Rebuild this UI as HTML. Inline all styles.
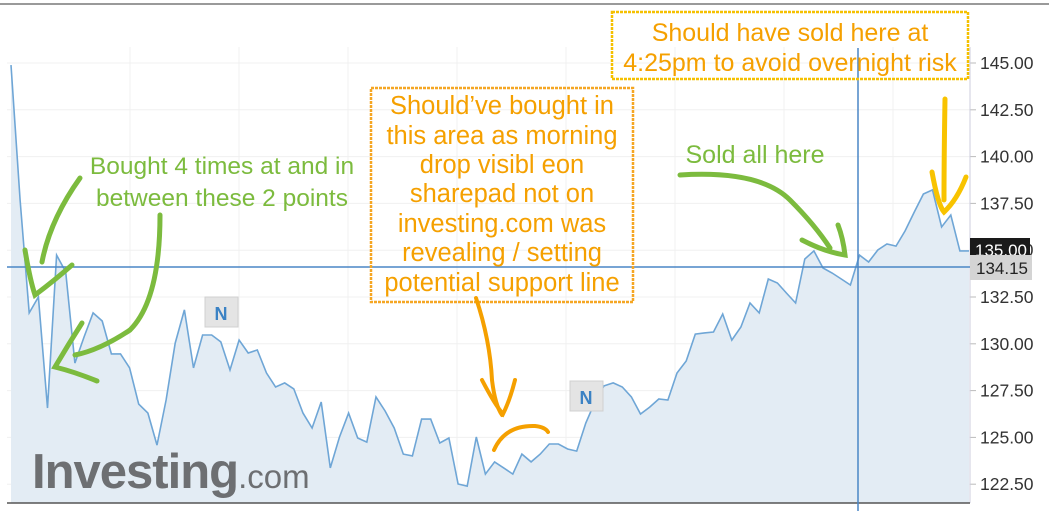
<!DOCTYPE html>
<html><head><meta charset="utf-8"><style>
body{margin:0;background:#fff;width:1049px;height:511px;overflow:hidden;font-family:"Liberation Sans",sans-serif}
svg{display:block}
</style></head><body>
<svg id="chart" width="1049" height="511" xmlns="http://www.w3.org/2000/svg">
<line x1="0" y1="4" x2="1049" y2="4" stroke="#9a9a9a" stroke-width="2"/>
<g id="grid"></g>
<g id="series"></g>
<g id="axis"></g>
<text x="32" y="488" font-size="49" font-weight="bold" fill="#6d6f72" letter-spacing="-1">Investing<tspan font-size="33" font-weight="normal" letter-spacing="0">.com</tspan></text>
<g><rect x="205" y="297" width="33" height="30" fill="#e4e4e4" stroke="#d0d0d0"/><text x="221" y="320" text-anchor="middle" font-size="18" font-weight="bold" fill="#3b82c4">N</text></g>
<g><rect x="570" y="381" width="33" height="30" fill="#e4e4e4" stroke="#d0d0d0"/><text x="586" y="404" text-anchor="middle" font-size="18" font-weight="bold" fill="#3b82c4">N</text></g>
<line x1="7" y1="267" x2="970" y2="267" stroke="#4a86c5" stroke-width="1.5"/>
<line x1="858" y1="48" x2="858" y2="511" stroke="#4a86c5" stroke-width="1.5"/>
<rect x="970" y="238" width="60" height="18" fill="#1a1a1a"/>
<text x="975" y="256" font-size="17" fill="#fff">135.00</text>
<rect x="970" y="255" width="62" height="25" fill="#d4d4d4"/>
<text x="976" y="274" font-size="17" fill="#222">134.15</text>
<g fill="#7cbb3e" font-size="24.5" text-anchor="middle">
<text x="222" y="174">Bought 4 times at and in</text><text x="222" y="206">between these 2 points</text></g>
<g fill="none" stroke="#7cbb3e" stroke-width="5" stroke-linecap="round">
<path d="M80 178 Q50 220 42 262"/><path d="M25 250 Q30 280 35 295 Q55 280 72 265"/>
<path d="M160 215 Q160 300 130 330 Q100 350 75 355"/><path d="M82 323 Q68 345 55 367 Q75 372 97 381"/>
<path d="M680 175 Q760 170 790 200 Q815 225 830 248"/><path d="M802 240 Q825 252 845 255 Q843 238 838 225"/>
</g>
<text x="755" y="163" fill="#7cbb3e" font-size="25" text-anchor="middle">Sold all here</text>
<rect x="371" y="88" width="262" height="214" fill="none" stroke="#f5a623" stroke-width="2.5" stroke-dasharray="3 1"/>
<g fill="#f5a000" font-size="25.5" text-anchor="middle">
<text x="502" y="114">Should’ve bought in</text><text x="502" y="144">this area as morning</text><text x="502" y="173">drop visibl eon</text><text x="502" y="202">sharepad not on</text><text x="502" y="232">investing.com was</text><text x="502" y="261">revealing / setting</text><text x="502" y="291">potential support line</text></g>
<g fill="none" stroke="#f5a000" stroke-width="4" stroke-linecap="round">
<path d="M476 298 Q490 340 492 380 Q495 405 502 415"/><path d="M482 380 Q495 405 503 414 Q510 400 515 380"/>
<path d="M494 450 Q505 425 535 426 Q545 427 548 432"/>
</g>
<rect x="612" y="12" width="356" height="67" fill="none" stroke="#f5c000" stroke-width="2.5" stroke-dasharray="3 1"/>
<g fill="#f5a000" font-size="25" text-anchor="middle">
<text x="790" y="41">Should have sold here at</text><text x="790" y="71">4:25pm to avoid overnight risk</text></g>
<g fill="none" stroke="#f8c300" stroke-width="5" stroke-linecap="round">
<path d="M945 99 Q944 160 944 200"/><path d="M932 172 Q938 205 944 212 Q957 200 966 177"/></g>
</svg>
<script>
const tickValues=[122.5,125,127.5,130,132.5,135,137.5,140,142.5,145];
const tickLabels=["122.50","125.00","127.50","130.00","132.50","135.00","137.50","140.00","142.50","145.00"];
const prices=[144.89,137.68,131.65,132.50,126.57,134.74,133.84,128.97,130.36,131.65,131.22,129.46,129.46,128.71,126.78,126.30,124.59,127.00,130.04,131.81,128.71,130.47,130.47,130.10,128.60,130.20,129.51,129.67,128.44,127.69,127.91,127.59,126.30,125.50,126.89,123.37,125.02,126.30,124.97,124.75,127.16,126.41,125.50,124.11,124.01,125.98,125.98,124.70,124.97,122.51,122.40,125.02,123.04,123.69,123.37,123.04,124.11,123.69,124.11,124.65,124.65,124.38,124.27,125.77,126.89,127.75,127.91,127.69,127.16,126.25,126.62,127.05,127.00,128.44,129.08,130.52,130.58,130.63,131.59,130.20,130.90,132.18,131.65,133.46,133.25,132.71,132.18,134.53,134.96,134.05,133.78,133.46,133.14,134.74,134.37,135.01,135.33,135.22,136.03,137.04,138.00,138.22,136.24,136.88,134.96,134.96];
const NS="http://www.w3.org/2000/svg";
const X0=11,X1=969,PB=503;
const y=v=>63+(145-v)*18.72;
const x=i=>X0+i*(X1-X0)/(prices.length-1);
function mk(t,a,p){const e=document.createElementNS(NS,t);for(const k in a)e.setAttribute(k,a[k]);p.appendChild(e);return e;}
const grid=document.getElementById('grid'),axis=document.getElementById('axis'),ser=document.getElementById('series');
mk('rect',{x:7,y:47,width:963,height:456,fill:'#fff'},grid);
for(let gx=130;gx<960;gx+=109){const l=mk('line',{x1:gx,y1:47,x2:gx,y2:PB,stroke:'#f1f1f1'},grid);

}
tickValues.forEach((v,i)=>{
const l=mk('line',{x1:7,y1:y(v),x2:970,y2:y(v),stroke:'#f0f0f0'},grid);


mk('line',{x1:970,y1:y(v),x2:976,y2:y(v),stroke:'#bbb'},axis);
const t=mk('text',{x:980,y:y(v)+6,'font-size':17.5,fill:'#333'},axis);t.textContent=tickLabels[i];


});
mk('line',{x1:970,y1:47,x2:970,y2:PB,stroke:'#ccd'},axis);
mk('line',{x1:7,y1:PB,x2:970,y2:PB,stroke:'#555',"stroke-width":1.5},axis);
let d=prices.map((v,i)=>(i?'L':'M')+x(i).toFixed(1)+' '+y(v).toFixed(1)).join(' ');
const area=mk('path',{d:d+` L${X1} ${PB} L${X0} ${PB} Z`,fill:'#e3ecf4'},ser);


const line=mk('path',{d:d,fill:'none',stroke:'#6fa6d6','stroke-width':1.6},ser);


</script>
</body></html>
